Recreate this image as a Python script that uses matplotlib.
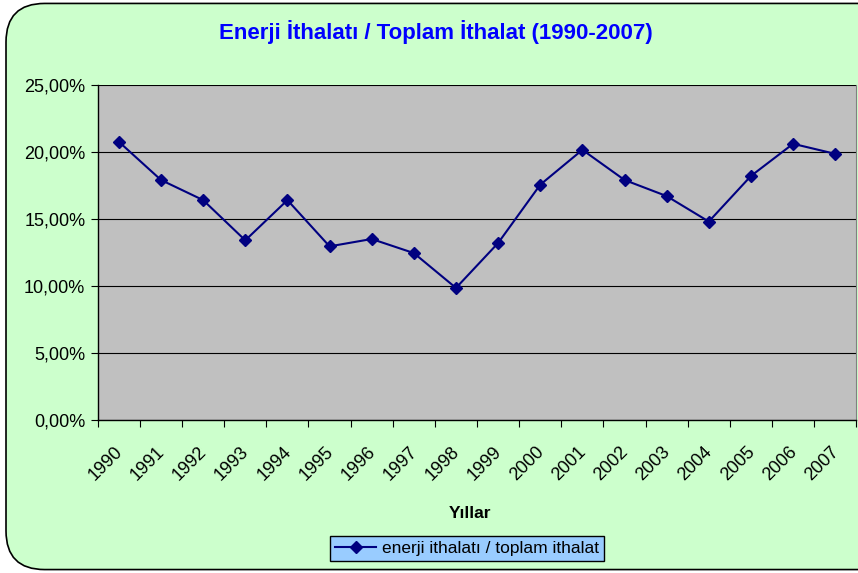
import matplotlib
matplotlib.use("Agg")
import matplotlib.pyplot as plt
import matplotlib.transforms as mtransforms
import numpy as np
from matplotlib.patches import FancyBboxPatch
from matplotlib.ticker import FuncFormatter

plt.rcParams['font.family'] = ['Liberation Sans', 'DejaVu Sans']

years = [str(y) for y in range(1990, 2008)]
share = [20.75, 17.9, 16.4, 13.4, 16.4, 12.95, 13.5, 12.45, 9.85,
         13.2, 17.55, 20.15, 17.9, 16.7, 14.8, 18.2, 20.6, 19.85]
series_name = "enerji ithalatı / toplam ithalat"
title = "Enerji İthalatı / Toplam İthalat (1990-2007)"

fig = plt.figure(figsize=(8.58, 5.73), dpi=100)
fig.patch.set_facecolor('white')
# chart area is cut off on the right in the original
bg = FancyBboxPatch((0.007, 0.006), 1.05, 0.988, boxstyle="round,pad=0,rounding_size=0.045",
                    transform=fig.transFigure, facecolor='#CCFFCC', edgecolor='black',
                    linewidth=1.2, mutation_aspect=858 / 573, zorder=-10)
fig.patches.append(bg)

ax = fig.add_axes([0.114, 0.267, 0.884, 0.585])
ax.set_facecolor('#C0C0C0')

x = np.arange(len(years))
ax.plot(x, share, color='#000080', linewidth=1.5, marker='D', markersize=6,
        markerfacecolor='#000080', markeredgecolor='#000080', label=series_name)

ax.set_xlim(-0.5, len(years) - 0.5)
ax.set_ylim(0, 25)
ax.set_yticks(np.arange(0, 26, 5))
ax.yaxis.set_major_formatter(FuncFormatter(lambda v, p: f"{v:.2f}".replace('.', ',') + "%"))
ax.yaxis.grid(True, color='black', linewidth=0.8)
ax.set_axisbelow(True)

ax.set_xticks(np.arange(len(years) + 1) - 0.5)
ax.set_xticklabels([])
ax.set_xticks(x, minor=True)
ax.set_xticklabels(years, minor=True, rotation=45, ha='right', va='top',
                   rotation_mode='anchor', fontsize=13)
ax.tick_params(axis='x', which='minor', length=0, pad=17)
ax.tick_params(axis='x', which='major', length=5, direction='out', color='black')
ax.tick_params(axis='y', length=5, labelsize=13, pad=4)
shift = mtransforms.ScaledTranslation(-5 / 100, 0, fig.dpi_scale_trans)
for lbl in ax.get_xticklabels(minor=True):
    lbl.set_transform(lbl.get_transform() + shift)

for s in ['top']:
    ax.spines[s].set_visible(False)
ax.spines['right'].set_color('#808080')
for s in ['left', 'bottom']:
    ax.spines[s].set_color('black')
    ax.spines[s].set_linewidth(1.0)

fig.text(0.508, 0.944, title, ha='center', va='center', fontsize=16,
         fontweight='bold', color='#0000FF')
fig.text(0.548, 0.104, "Yıllar", ha='center', va='center', fontsize=12.5, fontweight='bold')

leg = fig.legend(loc='center', bbox_to_anchor=(0.544, 0.043), fontsize=12.5,
                 frameon=True, fancybox=False, handlelength=2.4, borderpad=0.3,
                 handletextpad=0.3)
leg.get_frame().set_facecolor('#99CCFF')
leg.get_frame().set_edgecolor('black')
leg.get_frame().set_alpha(1)

fig.savefig('out.png', dpi=100)
